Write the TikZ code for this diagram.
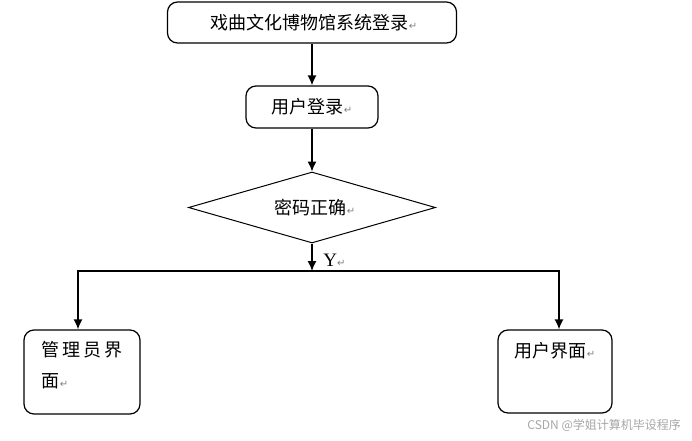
\documentclass[tikz,border=0pt]{standalone}
\usepackage{fontspec}
\newfontfamily\cjk{Noto Sans CJK SC}
\newfontfamily\dejavu{DejaVu Sans}
\newfontfamily\tnr{Liberation Serif}
\usetikzlibrary{shapes.geometric,arrows.meta}

\newcommand{\retmark}{{\dejavu\fontsize{5pt}{5pt}\selectfont\textcolor{gray}{↵}}}

\tikzset{
  flowbox/.style={draw, rounded corners=5pt, line width=0.6pt, inner sep=0pt},
  testbox/.style={draw, diamond, aspect=3.5, line width=0.5pt, inner sep=0pt,
    minimum width=123.5pt, minimum height=35.5pt},
  link/.style={->, line width=0.7pt}
}

\begin{document}
\begin{tikzpicture}[x=0.5pt, y=-0.5pt, >={Latex[length=5pt,width=4.5pt]},
    every node/.style={font=\cjk\fontsize{9pt}{13.5pt}\selectfont}]
    \useasboundingbox (0,0) rectangle (692,440);

    \node[flowbox, minimum width=144.5pt, minimum height=20.5pt]
      (login) at (312,22.5) {\hspace{2pt}戏曲文化博物馆系统登录\retmark};
    \node[flowbox, minimum width=66pt, minimum height=21pt]
      (userlogin) at (312,107) {用户登录\retmark};
    \node[testbox] (pwd) at (312,207.5) {\hspace{3pt}密码正确\retmark};
    \coordinate (split) at (312,271);

    \node[flowbox, minimum width=58pt, minimum height=42pt,
      label={[anchor=north west, align=left, inner sep=0pt, xshift=9pt, yshift=-6pt]
        north west:{管\,理\,员\,界\\[2pt]面\retmark}}]
      (admin) at (82,372) {};
    \node[flowbox, minimum width=57pt, minimum height=41.5pt,
      label={[anchor=north, inner sep=0pt, yshift=-6pt]north:{用户界面\retmark}}]
      (user) at (555,371.5) {};

    \draw[link] (login) -- (userlogin);
    \draw[link] (userlogin) -- (pwd);
    \draw[link] (pwd) -- (split);
    \draw[link] (split) -| ([xshift=-2pt]admin.north);
    \draw[link] (split) -| ([xshift=2pt]user.north);
    \node[anchor=west, inner sep=0pt, font=\tnr\fontsize{9.5pt}{9.5pt}\selectfont]
      (yes) at (323,260) {Y\retmark};

    \node[anchor=east, text=gray!70, font=\cjk\fontsize{6pt}{6pt}\selectfont]
      (mark) at (688,425) {CSDN @学姐计算机毕设程序};
\end{tikzpicture}
\end{document}
